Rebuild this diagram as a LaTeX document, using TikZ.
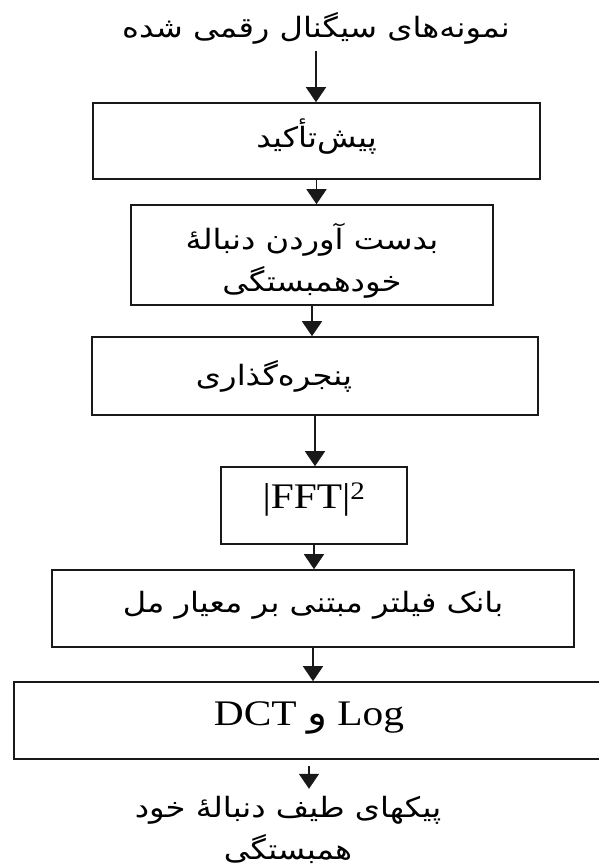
\documentclass[tikz,border=0pt]{standalone}
\usepackage{fontspec}
\setmainfont{Liberation Serif}[FakeStretch=1.15]
\newfontfamily\fa[Script=Arabic, FakeStretch=1.15]{DejaVu Sans}
\TeXXeTstate=1
\usetikzlibrary{arrows.meta}

\tikzset{
  blockbox/.style={draw=black!90, line width=1.6pt, inner sep=0pt, align=center},
  flowarrow/.style={draw=black!90, line width=1.5pt, -{Triangle[width=20pt,length=15pt]}},
  fatext/.style={font=\fontsize{28}{42}\selectfont\fa, align=center},
  latext/.style={font=\fontsize{36}{40}\selectfont},
}
\newcommand{\rtltext}[1]{\beginR #1\endR}
\newcommand{\shifttext}[2]{\raisebox{#1}[\height][\depth]{#2}}

\begin{document}
\begin{tikzpicture}[x=1pt, y=-1pt]
\useasboundingbox (0,0) rectangle (598,865);

% Draw the input text and the blocks
\node[fatext] (input) at (316,28) {\rtltext{نمونه‌های سیگنال رقمی شده}};
\node[blockbox, fatext, minimum width=447pt, minimum height=76pt] (preemph) at (316.5,141) {\shifttext{4pt}{\rtltext{پیش‌تأکید}}};
\node[blockbox, fatext, minimum width=362pt, minimum height=100pt] (autocorr) at (312,255) {\shifttext{-7pt}{\begin{tabular}{c}\rtltext{بدست آوردن دنبالهٔ}\\\rtltext{خودهمبستگی}\end{tabular}}};
\node[blockbox, fatext, minimum width=446pt, minimum height=78pt] (window) at (315,376) {\rtltext{پنجره‌گذاری}\hspace*{82pt}};
\node[blockbox, latext, minimum width=186pt, minimum height=77pt] (fft) at (314,505.5) {\shifttext{6pt}{|FFT|\textsuperscript{2}}};
\node[blockbox, latext, minimum width=590pt, minimum height=77pt] (logdct) at (309,720.5) {\shifttext{3pt}{\rtltext{\beginL Log\endL{} {\fa و} \beginL DCT\endL{}}}};
\node[blockbox, fatext, minimum width=522pt, minimum height=77pt] (melbank) at (313,608.5) {\shifttext{3pt}{\rtltext{بانک فیلتر مبتنی بر معیار مل}}};
\node[fatext] (output) at (288,830) {\rtltext{پیکهای طیف دنبالهٔ خود}\\\rtltext{همبستگی}};

% Draw the arrows between the blocks
\draw[flowarrow, shorten <=4pt] (input.south) -- (input.south |- preemph.north);
\draw[flowarrow] (preemph.south) -- (preemph.south |- autocorr.north);
\draw[flowarrow] (autocorr.south) -- (autocorr.south |- window.north);
\draw[flowarrow] (window.south) -- (window.south |- fft.north);
\draw[flowarrow] (fft.south) -- (fft.south |- melbank.north);
\draw[flowarrow] (melbank.south) -- (melbank.south |- logdct.north);
\draw[flowarrow, shorten <=6pt, shorten >=4pt] (logdct.south) -- (logdct.south |- output.north);
\end{tikzpicture}
\end{document}
